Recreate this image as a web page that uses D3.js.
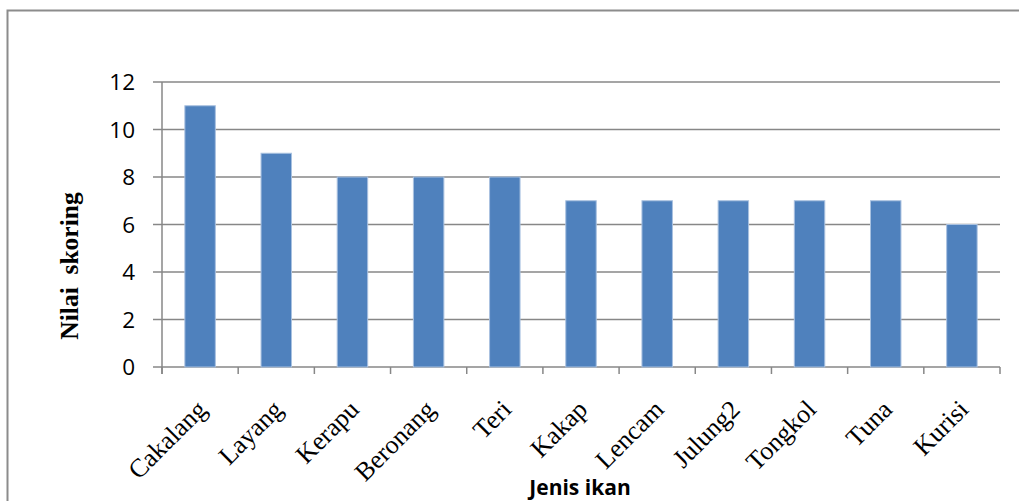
<!DOCTYPE html>
<html>
<head>
<meta charset="utf-8">
<script src="https://cdn.jsdelivr.net/npm/d3@7"></script>
<style>
  body { margin: 0; background: #fff; }
  svg { display: block; }
</style>
</head>
<body>
<svg id="svg" width="1019" height="501"></svg>
<script>
// data
var fishNames = ["Cakalang", "Layang", "Kerapu", "Beronang", "Teri", "Kakap",
                 "Lencam", "Julung2", "Tongkol", "Tuna", "Kurisi"];
var scores = [11, 9, 8, 8, 8, 7, 7, 7, 7, 7, 6];
var yTicks = [0, 2, 4, 6, 8, 10, 12];

var svg = d3.select("#svg"),
    width = 1019,
    height = 501;

var plot = { left: 162, right: 1000, top: 82, bottom: 367 };
var gridColor = "#878787";

// outer frame (right and bottom run past the picture)
svg.append("path")
    .attr("d", "M7.5," + (height + 5) + "V10.5H" + (width + 5))
    .attr("fill", "none")
    .attr("stroke", "#8c8c8c")
    .attr("stroke-width", 2);

var x = d3.scaleBand()
    .domain(fishNames)
    .range([plot.left, plot.right])
    .paddingInner(0.6)
    .paddingOuter(0.3);

var y = d3.scaleLinear()
    .domain([0, 12])
    .range([plot.bottom, plot.top]);

// gridlines + y ticks
svg.append("g")
    .selectAll("line")
    .data(yTicks)
    .enter()
    .append("line")
    .attr("x1", plot.left - 9)
    .attr("x2", plot.right)
    .attr("y1", function(d) { return y(d); })
    .attr("y2", function(d) { return y(d); })
    .attr("stroke", gridColor)
    .attr("stroke-width", 1.5);

svg.append("g")
    .selectAll("text")
    .data(yTicks)
    .enter()
    .append("text")
    .attr("x", 135)
    .attr("y", function(d) { return y(d); })
    .attr("dy", "0.36em")
    .attr("text-anchor", "end")
    .style("font-family", "'Open Sans', sans-serif")
    .style("font-size", "22.5px")
    .attr("fill", "#000")
    .text(function(d) { return d; });

// bars
svg.append("g")
    .selectAll("rect")
    .data(scores)
    .enter()
    .append("rect")
    .attr("x", function(d, i) { return x(fishNames[i]); })
    .attr("width", x.bandwidth())
    .attr("y", function(d) { return y(d); })
    .attr("height", function(d) { return y(0) - y(d); })
    .attr("fill", "#4f81bd")
    .attr("stroke", "#a9c1e0")
    .attr("stroke-width", 1);

// y axis line
svg.append("line")
    .attr("x1", plot.left).attr("x2", plot.left)
    .attr("y1", plot.top).attr("y2", plot.bottom + 7)
    .attr("stroke", gridColor)
    .attr("stroke-width", 1.5);

// x tick marks at band edges
var step = x.step();
var edges = d3.range(fishNames.length + 1).map(function(i) { return plot.left + i * step; });
svg.append("g")
    .selectAll("line")
    .data(edges)
    .enter()
    .append("line")
    .attr("x1", function(d) { return d; })
    .attr("x2", function(d) { return d; })
    .attr("y1", plot.bottom)
    .attr("y2", plot.bottom + 7)
    .attr("stroke", gridColor)
    .attr("stroke-width", 1.5);

// category labels, rotated
svg.append("g")
    .selectAll("text")
    .data(fishNames)
    .enter()
    .append("text")
    .attr("transform", function(d) {
        var cx = x(d) + x.bandwidth() / 2;
        return "translate(" + (cx + 8) + ",411) rotate(-45)";
    })
    .attr("text-anchor", "end")
    .style("font-family", "'Liberation Serif', 'Times New Roman', serif")
    .style("font-size", "26px")
    .attr("fill", "#000")
    .text(function(d) { return d; });

// axis titles
svg.append("text")
    .attr("x", 580)
    .attr("y", 495)
    .attr("text-anchor", "middle")
    .style("font-family", "'Open Sans', sans-serif")
    .style("font-weight", "bold")
    .style("font-size", "21px")
    .attr("fill", "#000")
    .text("Jenis ikan");

svg.append("text")
    .attr("transform", "translate(78,266) rotate(-90)")
    .attr("text-anchor", "middle")
    .style("font-family", "'Liberation Serif', 'Times New Roman', serif")
    .style("font-weight", "bold")
    .style("font-size", "25.5px")
    .style("white-space", "pre")
    .attr("fill", "#000")
    .text("Nilai  skoring");
</script>
</body>
</html>
